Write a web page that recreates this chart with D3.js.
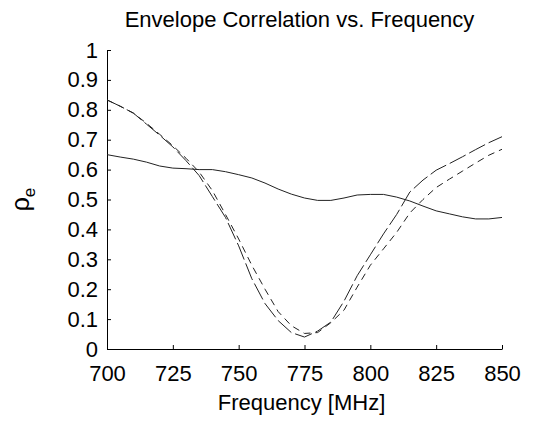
<!DOCTYPE html>
<html>
<head>
<meta charset="utf-8">
<script src="https://cdn.jsdelivr.net/npm/d3@7"></script>
<style>
  body { margin: 0; background: #fff; }
  text { font-family: "Liberation Sans", Arial, Helvetica, sans-serif; fill: #000; }
</style>
</head>
<body>
<svg id="chart"></svg>
<script>
// frequency samples (MHz)
var freq = [700, 705, 710, 715, 720, 725, 730, 735, 740, 745, 750, 755, 760, 765, 770, 775,
            780, 785, 790, 795, 800, 805, 810, 815, 820, 825, 830, 835, 840, 845, 850];

// solid, flat curve
var rhoSolid = [0.650, 0.642, 0.635, 0.625, 0.612, 0.605, 0.603, 0.600, 0.600, 0.593, 0.583,
                0.572, 0.555, 0.535, 0.518, 0.505, 0.497, 0.497, 0.505, 0.515, 0.517, 0.517,
                0.508, 0.495, 0.478, 0.462, 0.452, 0.442, 0.435, 0.435, 0.440];

// long dash curve
var rhoLong = [0.833, 0.812, 0.789, 0.752, 0.715, 0.676, 0.630, 0.580, 0.510, 0.440, 0.345,
               0.235, 0.152, 0.095, 0.055, 0.040, 0.060, 0.090, 0.160, 0.245, 0.315, 0.385,
               0.450, 0.525, 0.565, 0.598, 0.620, 0.643, 0.667, 0.690, 0.710];

// short dash curve
var rhoShort = [0.833, 0.812, 0.789, 0.755, 0.718, 0.680, 0.638, 0.592, 0.530, 0.450, 0.368,
                0.280, 0.200, 0.125, 0.078, 0.052, 0.055, 0.088, 0.130, 0.207, 0.280, 0.335,
                0.390, 0.455, 0.500, 0.540, 0.568, 0.595, 0.622, 0.648, 0.668];

var xTicks = [700, 725, 750, 775, 800, 825, 850];
var yTicks = [0, 0.1, 0.2, 0.3, 0.4, 0.5, 0.6, 0.7, 0.8, 0.9, 1];

var fontSize = "22px";

var margin = { top: 50, right: 41, bottom: 74, left: 107 },
  width = 543 - margin.left - margin.right,
  height = 423 - margin.top - margin.bottom;

var svg = d3.select("#chart")
  .attr("width", 543)
  .attr("height", 423)
  .append("g")
  .attr("transform", "translate(" + margin.left + "," + margin.top + ")");

var x = d3.scaleLinear().domain([700, 850]).range([0, width]);
var y = d3.scaleLinear().domain([0, 1]).range([height, 0]);

// axes, ticks pointing inward like matlab
svg.append("g")
  .attr("transform", "translate(0," + height + ")")
  .call(d3.axisBottom(x).tickValues(xTicks).tickFormat(d3.format("d"))
    .tickSizeInner(-4).tickSizeOuter(0).tickPadding(16))
  .call(g => g.selectAll("text").style("font-size", fontSize));

svg.append("g")
  .call(d3.axisLeft(y).tickValues(yTicks).tickFormat(d => d === 0 || d === 1 ? d : d.toFixed(1))
    .tickSizeInner(-4).tickSizeOuter(0).tickPadding(9))
  .call(g => g.selectAll("text").style("font-size", fontSize));

svg.selectAll(".domain").attr("stroke", "#000");
svg.selectAll(".tick line").attr("stroke", "#000");

var line = d3.line()
  .x((d, i) => x(freq[i]))
  .y(d => y(d));

var series = [
  { values: rhoSolid, dash: null },
  { values: rhoLong, dash: "18,4" },
  { values: rhoShort, dash: "7,5" }
];

svg.selectAll("path.curve")
  .data(series)
  .enter().append("path")
  .attr("class", "curve")
  .attr("d", d => line(d.values))
  .style("fill", "none")
  .style("stroke", "#222")
  .style("stroke-width", 1)
  .style("stroke-dasharray", d => d.dash);

// title
svg.append("text")
  .attr("x", width / 2 - 5)
  .attr("y", -23)
  .style("text-anchor", "middle")
  .style("font-size", fontSize)
  .text("Envelope Correlation vs. Frequency");

// x label
svg.append("text")
  .attr("x", width / 2 - 3)
  .attr("y", height + 61)
  .style("text-anchor", "middle")
  .style("font-size", fontSize)
  .text("Frequency [MHz]");

// y label: rho with subscript e
var yl = svg.append("text")
  .attr("transform", "translate(" + (-78) + "," + (height / 2) + ") rotate(-90)")
  .style("text-anchor", "middle")
  .style("font-size", "25px");
yl.append("tspan").text("ρ");
yl.append("tspan").attr("dy", 6).style("font-size", "17px").text("e");
</script>
</body>
</html>
